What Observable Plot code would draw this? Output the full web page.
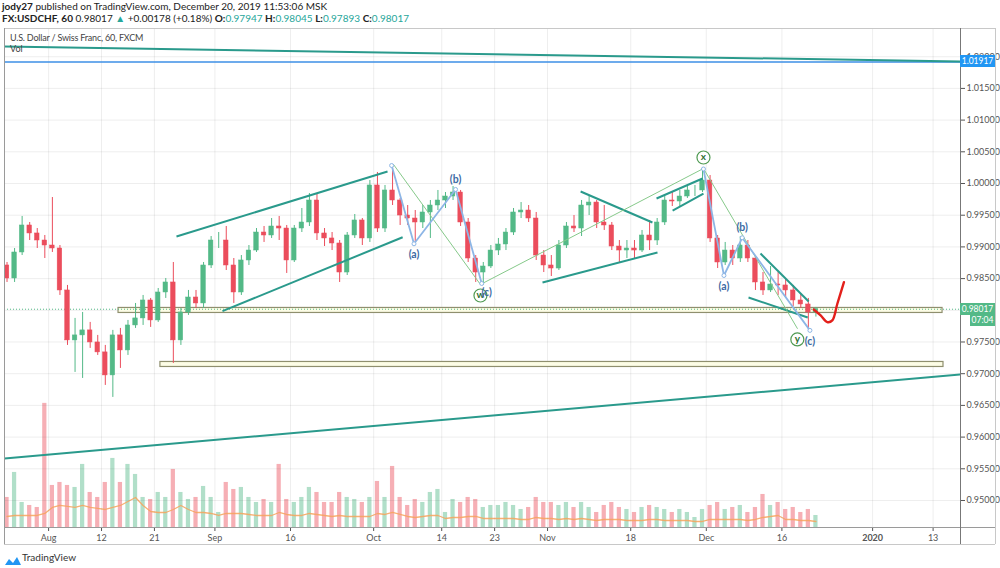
<!DOCTYPE html>
<html><head><meta charset="utf-8">
<script src="https://cdn.jsdelivr.net/npm/d3@7"></script>
<script src="https://cdn.jsdelivr.net/npm/@observablehq/plot@0.6"></script>
<style>
html,body{margin:0;padding:0;background:#fff;}
#wrap{position:relative;width:1000px;height:568px;overflow:hidden;font-family:Lato,"Open Sans",sans-serif;color:#222;}
.abs{position:absolute;white-space:nowrap;}
.up{color:#26a69a;}
.line{position:absolute;background:#9a9a9a;pointer-events:none;}
.tag{position:absolute;color:#fff;font-size:8.5px;text-align:center;line-height:12px;font-family:Lato,sans-serif;}
</style></head>
<body><div id="wrap"></div>
<script>
// ---------------- DATA ----------------
const author = "jody27";
const published = "December 20, 2019 11:53:06 MSK";
const symbolLine = "FX:USDCHF, 60";
const paneTitle = "U.S. Dollar / Swiss Franc, 60, FXCM";
const lastPrice = 0.98017, change = "+0.00178 (+0.18%)";
const ohlcLast = {O:"0.97947", H:"0.98045", L:"0.97893", C:"0.98017"};
const alertLevel = 1.01917;
const countdown = "07:04";

const dates = ["2019-07-24","2019-07-25","2019-07-26","2019-07-29","2019-07-30","2019-07-31",
"2019-08-01","2019-08-02","2019-08-05","2019-08-06","2019-08-07","2019-08-08","2019-08-09","2019-08-12","2019-08-13","2019-08-14","2019-08-15","2019-08-16","2019-08-19","2019-08-20","2019-08-21","2019-08-22","2019-08-23","2019-08-26","2019-08-27","2019-08-28","2019-08-29","2019-08-30",
"2019-09-02","2019-09-03","2019-09-04","2019-09-05","2019-09-06","2019-09-09","2019-09-10","2019-09-11","2019-09-12","2019-09-13","2019-09-16","2019-09-17","2019-09-18","2019-09-19","2019-09-20","2019-09-23","2019-09-24","2019-09-25","2019-09-26","2019-09-27","2019-09-30",
"2019-10-01","2019-10-02","2019-10-03","2019-10-04","2019-10-07","2019-10-08","2019-10-09","2019-10-10","2019-10-11","2019-10-14","2019-10-15","2019-10-16","2019-10-17","2019-10-18","2019-10-21","2019-10-22","2019-10-23","2019-10-24","2019-10-25","2019-10-28","2019-10-29","2019-10-30","2019-10-31",
"2019-11-01","2019-11-04","2019-11-05","2019-11-06","2019-11-07","2019-11-08","2019-11-11","2019-11-12","2019-11-13","2019-11-14","2019-11-15","2019-11-18","2019-11-19","2019-11-20","2019-11-21","2019-11-22","2019-11-25","2019-11-26","2019-11-27","2019-11-28","2019-11-29",
"2019-12-02","2019-12-03","2019-12-04","2019-12-05","2019-12-06","2019-12-09","2019-12-10","2019-12-11","2019-12-12","2019-12-13","2019-12-16","2019-12-17","2019-12-18","2019-12-19","2019-12-20"];

const open = [0.98707,0.98502,0.98912,0.99338,0.99212,0.99101,
0.99022,0.98975,0.98313,0.97525,0.97604,0.97683,0.97493,0.97336,0.96973,0.97604,0.97367,0.97761,0.97872,0.98155,0.97840,0.98281,0.98439,0.97525,0.97966,0.98202,0.98108,0.98707,
0.99101,0.99101,0.98707,0.98281,0.98786,0.98943,0.99227,0.99180,0.99322,0.99290,0.98786,0.99290,0.99385,0.99732,0.99212,0.99133,0.99054,0.98596,0.99180,0.99417,0.99133,
0.99969,0.99290,0.99890,0.99732,0.99495,0.99448,0.99385,0.99543,0.99653,0.99732,0.99795,0.99858,0.99385,0.98817,0.98596,0.98691,0.98943,0.99038,0.99227,0.99543,0.99574,0.99448,0.98864,
0.98707,0.98659,0.99022,0.99322,0.99290,0.99653,0.99700,0.99385,0.99338,0.99006,0.98943,0.98975,0.98943,0.99180,0.99101,0.99385,0.99732,0.99716,0.99795,0.99890,0.99890,
1.00047,0.99133,0.98754,0.98943,0.98817,0.99022,0.98817,0.98439,0.98313,0.98407,0.98392,0.98313,0.98155,0.98092,0.97966];

const high = [0.98754,0.98975,0.99480,0.99385,0.99290,0.99180,
0.99779,0.99022,0.98392,0.97872,0.97966,0.97809,0.97604,0.97446,0.97683,0.97714,0.97840,0.98108,0.98234,0.98187,0.98344,0.98502,0.98754,0.98029,0.98313,0.98313,0.98754,0.99164,
0.99227,0.99322,0.98817,0.98864,0.99022,0.99290,0.99322,0.99448,0.99480,0.99338,0.99338,0.99606,0.99842,0.99842,0.99290,0.99227,0.99101,0.99227,0.99511,0.99448,1.00047,
1.00174,0.99969,1.00284,0.99764,0.99653,0.99574,0.99653,0.99732,0.99890,0.99858,0.99953,0.99890,0.99448,0.98864,0.98754,0.99022,0.99133,0.99290,0.99606,0.99700,0.99653,0.99543,0.98943,
0.98864,0.99101,0.99385,0.99495,0.99732,0.99795,0.99732,0.99653,0.99385,0.99101,0.99101,0.99101,0.99259,0.99417,0.99448,0.99811,0.99858,0.99890,0.99953,0.99969,1.00221,
1.00126,0.99180,0.99070,0.99022,0.99164,0.99101,0.98864,0.98596,0.98691,0.98596,0.98502,0.98392,0.98265,0.98187,0.98045];

const low = [0.98439,0.98439,0.98864,0.99101,0.98975,0.98817,
0.98912,0.98234,0.97446,0.97020,0.96925,0.97399,0.97288,0.96815,0.96626,0.97083,0.97288,0.97714,0.97761,0.97730,0.97809,0.98187,0.97162,0.97446,0.97919,0.98029,0.98029,0.98659,
0.98975,0.98628,0.98108,0.98234,0.98707,0.98912,0.99070,0.99133,0.99101,0.98581,0.98754,0.99227,0.99322,0.99101,0.99006,0.98943,0.98439,0.98549,0.99133,0.99022,0.99070,
0.99227,0.99227,0.99653,0.99338,0.99338,0.99070,0.99290,0.99133,0.99574,0.99606,0.99732,0.99322,0.98754,0.98439,0.98392,0.98659,0.98864,0.98943,0.99180,0.99448,0.99385,0.98786,0.98596,
0.98533,0.98628,0.98975,0.99227,0.99164,0.99495,0.99290,0.99259,0.98943,0.98738,0.98817,0.98817,0.98912,0.98943,0.99022,0.99338,0.99637,0.99637,0.99764,0.99795,0.99858,
0.99070,0.98659,0.98707,0.98707,0.98754,0.98754,0.98313,0.98234,0.98281,0.98234,0.98187,0.98061,0.98029,0.97700,0.97893];

const close = [0.98502,0.98912,0.99338,0.99212,0.99101,0.99022,
0.98975,0.98313,0.97525,0.97604,0.97683,0.97493,0.97336,0.96973,0.97604,0.97367,0.97761,0.97872,0.98155,0.97840,0.98281,0.98439,0.97525,0.97966,0.98202,0.98108,0.98707,0.99101,
0.99101,0.98707,0.98281,0.98786,0.98943,0.99227,0.99180,0.99322,0.99290,0.98786,0.99290,0.99385,0.99732,0.99212,0.99133,0.99054,0.98596,0.99180,0.99417,0.99133,0.99969,
0.99290,0.99890,0.99732,0.99495,0.99448,0.99385,0.99543,0.99653,0.99732,0.99795,0.99858,0.99385,0.98817,0.98596,0.98691,0.98943,0.99038,0.99227,0.99543,0.99574,0.99448,0.98864,0.98707,
0.98659,0.99022,0.99322,0.99290,0.99653,0.99700,0.99385,0.99338,0.99006,0.98943,0.98975,0.98943,0.99180,0.99101,0.99385,0.99732,0.99716,0.99795,0.99890,0.99890,1.00047,
0.99133,0.98754,0.98943,0.98817,0.99022,0.98817,0.98439,0.98313,0.98407,0.98392,0.98313,0.98155,0.98092,0.97966,0.98017];

const volume = [30,55,25,22,20,124,
42,45,42,40,63,35,30,45,69,45,63,53,30,28,35,30,58,35,28,30,41,30,
15,45,38,40,30,25,28,25,63,28,25,30,40,35,25,25,35,30,28,25,30,
46,30,61,30,22,28,25,35,38,15,28,25,30,28,20,22,22,25,22,18,20,30,25,
25,22,25,20,25,20,15,22,25,20,18,15,20,22,20,18,15,18,15,10,18,
22,25,18,20,22,15,20,33,22,25,18,20,15,18,12];

const volumeMA = [11,12,12,12,12,14,
20,22,21,20,22,20,19,18,20,22,26,30,22,16,15,15,18,22,18,15,15,14,
12,14,14,14,13,12,12,12,15,13,12,12,14,13,12,11,12,11,11,11,11,
14,13,15,13,11,10,11,12,12,9,10,10,11,11,9,9,9,9,9,8,8,10,9,
9,8,9,8,9,8,7,8,8,8,7,7,7,8,8,7,7,7,7,6,6,
8,8,8,8,8,7,8,10,11,12,8,8,7,7,6];

const xTickDates = ["2019-08-01","2019-08-12","2019-08-21","2019-09-02","2019-09-16","2019-10-01","2019-10-14","2019-10-23","2019-11-01","2019-11-18","2019-12-02","2019-12-16","2020-01-01","2020-01-13"];
const xTickLabels = ["Aug","12","21","Sep","16","Oct","14","23","Nov","18","Dec","16","2020","13"];
const yTicks = [0.95,0.955,0.96,0.965,0.97,0.975,0.98,0.985,0.99,0.995,1.0,1.005,1.01,1.015,1.02];
const viewStart = "2019-07-24T04:00", viewEnd = "2020-01-16T15:00";
const priceRange = [0.94574, 1.02445];

// drawings (time, price anchors)
const trendLines = [
 {t1:"2019-07-24T04:00", p1:1.02161, t2:"2020-01-16T15:00", p2:1.01925},
 {t1:"2019-07-24T04:00", p1:0.95663, t2:"2020-01-16T15:00", p2:0.96988},
 {t1:"2019-08-23T22:00", p1:0.99164, t2:"2019-10-02T20:00", p2:1.00190},
 {t1:"2019-09-03T00:00", p1:0.97986, t2:"2019-10-04T20:00", p2:0.99153},
 {t1:"2019-11-07T09:00", p1:0.99874, t2:"2019-11-20T21:00", p2:0.99385},
 {t1:"2019-10-31T08:00", p1:0.98439, t2:"2019-11-21T13:00", p2:0.98912},
 {t1:"2019-11-21T10:00", p1:0.99764, t2:"2019-11-29T12:00", p2:1.00079},
 {t1:"2019-11-25T13:00", p1:0.99574, t2:"2019-11-29T15:00", p2:0.99842},
 {t1:"2019-12-11T04:00", p1:0.98896, t2:"2019-12-19T13:00", p2:0.98139},
 {t1:"2019-12-09T14:00", p1:0.98202, t2:"2019-12-19T10:00", p2:0.97887}
];
const waveABC = [
 {wave:1, time:"2019-10-03T09:00", price:1.00284, label:"",    side:"none"},
 {wave:1, time:"2019-10-08T08:00", price:0.99049, label:"(a)", side:"below"},
 {wave:1, time:"2019-10-15T20:00", price:0.99906, label:"(b)", side:"above"},
 {wave:1, time:"2019-10-21T07:00", price:0.98423, label:"(c)", side:"belowRight"},
 {wave:2, time:"2019-11-29T15:00", price:1.00229, label:"",    side:"none"},
 {wave:2, time:"2019-12-04T08:00", price:0.98549, label:"(a)", side:"below"},
 {wave:2, time:"2019-12-06T18:00", price:0.99144, label:"(b)", side:"above"},
 {wave:2, time:"2019-12-19T17:00", price:0.97683, label:"(c)", side:"below"}
];
const waveWXY = [
 {time:"2019-10-03T15:00", price:1.00300, label:"",  side:"none"},
 {time:"2019-10-21T03:00", price:0.98407, label:"w", side:"below"},
 {time:"2019-11-29T15:00", price:1.00237, label:"x", side:"above"},
 {time:"2019-12-18T01:00", price:0.97714, label:"y", side:"below"}
];
const zones = [
 {from:"2019-08-14T06:00", to:"2020-01-14T06:00", top:0.98037, bottom:0.97958},
 {from:"2019-08-21T19:00", to:"2020-01-14T09:00", top:0.97185, bottom:0.97106}
];
const projection = [
 {time:"2019-12-20T05:00", price:0.98013},
 {time:"2019-12-23T03:00", price:0.97919},
 {time:"2019-12-24T00:00", price:0.97813},
 {time:"2019-12-24T16:00", price:0.97840},
 {time:"2019-12-25T08:00", price:0.98103},
 {time:"2019-12-26T05:00", price:0.98444}
];

// ---------------- HELPERS ----------------
const BASE = Date.UTC(2019,7,1), DAY = 864e5;
function tIndex(s){ // trading-day index (weekends removed), Aug 1 2019 = 0
  const d = new Date(s.length <= 10 ? s + "T00:00Z" : s + "Z");
  const d0 = Date.UTC(d.getUTCFullYear(), d.getUTCMonth(), d.getUTCDate());
  const frac = (d - d0) / DAY;
  let n = 0;
  if (d0 >= BASE) { for (let t = BASE; t < d0; t += DAY) { const w = new Date(t).getUTCDay(); if (w && w !== 6) n++; } }
  else { for (let t = d0; t < BASE; t += DAY) { const w = new Date(t).getUTCDay(); if (w && w !== 6) n--; } }
  return n + frac;
}
const UP = "#53b987", DOWN = "#eb4d5c", TEAL = "#2a9a8c", BLUE_W = "#8db6e6", GREEN_W = "#86c98a";
const candles = dates.map((d,i)=>({t:tIndex(d), open:open[i], high:high[i], low:low[i], close:close[i], vol:volume[i], ma:volumeMA[i]}));
const col = d => d.close >= d.open ? UP : DOWN;
const xTickIdx = xTickDates.map(tIndex);
const labelMap = new Map(xTickIdx.map((v,i)=>[v, xTickLabels[i]]));
const xDomain = [tIndex(viewStart), tIndex(viewEnd)];
const common = {width:1000, height:545, marginTop:28, marginRight:40, marginBottom:18, marginLeft:4};
const wave = waveABC.map(d=>({...d, t:tIndex(d.time)}));
const wxy = waveWXY.map(d=>({...d, t:tIndex(d.time)}));
const proj = projection.map(d=>({...d, t:tIndex(d.time)}));
const fmt5 = d3.format(".5f");

// ---------------- VOLUME (overlay pane) ----------------
const volPlot = Plot.plot({
  ...common,
  style:{background:"transparent"},
  x:{type:"linear", domain:xDomain, axis:null},
  y:{domain:[0, d3.max(volume)*4.02], axis:null},
  marks:[
    Plot.rect(candles, {x1:d=>d.t+0.22, x2:d=>d.t+0.78, y1:()=>0, y2:"vol", fill:col, fillOpacity:0.45}),
    Plot.line(candles, {x:d=>d.t+0.5, y:"ma", stroke:"#f7a35c", strokeWidth:1.3, strokeOpacity:0.85})
  ]
});

// ---------------- MAIN PRICE PANE ----------------
const main = Plot.plot({
  ...common,
  style:{background:"transparent", fontFamily:"Lato, 'Open Sans', sans-serif", fontSize:"9px", color:"#555", overflow:"visible"},
  x:{type:"linear", domain:xDomain, ticks:xTickIdx, tickFormat:d=>labelMap.get(d), tickSize:4, tickPadding:3, label:null, grid:true},
  y:{domain:priceRange, axis:"right", ticks:yTicks, tickFormat:d=>Math.abs(d-lastPrice)<0.001 ? "" : fmt5(d), tickSize:4, tickPadding:2, label:null, grid:true},
  marks:[
    Plot.rect(zones, {x1:d=>tIndex(d.from), x2:d=>tIndex(d.to), y1:"bottom", y2:"top", fill:"#fdfde6", stroke:"#8f8f6e", strokeWidth:1.2}),
    Plot.ruleY([lastPrice], {stroke:UP, strokeDasharray:"1,2"}),
    Plot.ruleX(candles, {x:d=>d.t+0.5, y1:"low", y2:"high", stroke:col, strokeWidth:1}),
    Plot.rect(candles, {x1:d=>d.t+0.2, x2:d=>d.t+0.8, y1:d=>Math.min(d.open,d.close), y2:d=>Math.max(d.open,d.close), fill:col, stroke:col, strokeWidth:0.5}),
    Plot.ruleY([alertLevel], {stroke:"#3d8fe6", strokeWidth:1.5}),
    Plot.link(trendLines, {x1:d=>tIndex(d.t1), y1:"p1", x2:d=>tIndex(d.t2), y2:"p2", stroke:TEAL, strokeWidth:2, clip:true}),
    Plot.line(wxy, {x:"t", y:"price", stroke:GREEN_W, strokeWidth:1}),
    Plot.line(wave, {x:"t", y:"price", z:"wave", stroke:BLUE_W, strokeWidth:1.8}),
    Plot.dot(wave, {x:"t", y:"price", r:2, stroke:BLUE_W, fill:"white", strokeWidth:1}),
    Plot.line(proj, {x:"t", y:"price", stroke:"#e3201b", strokeWidth:2.4, curve:"catmull-rom"}),
    Plot.dot(wxy.filter(d=>d.side==="below"), {x:"t", y:"price", dy:11, r:6.5, stroke:"#4f9a52", fill:"white", strokeWidth:1.2}),
    Plot.dot(wxy.filter(d=>d.side==="above"), {x:"t", y:"price", dy:-11, r:6.5, stroke:"#4f9a52", fill:"white", strokeWidth:1.2}),
    Plot.text(wxy.filter(d=>d.side==="below"), {x:"t", y:"price", dy:10, text:"label", fill:"#2e6f32", fontSize:10, fontWeight:"bold"}),
    Plot.text(wxy.filter(d=>d.side==="above"), {x:"t", y:"price", dy:-12, text:"label", fill:"#2e6f32", fontSize:10, fontWeight:"bold"}),
    Plot.text(wave.filter(d=>d.side==="below"), {x:"t", y:"price", dy:11, text:"label", fill:"#3b6aa3", fontSize:10.5, fontWeight:"bold"}),
    Plot.text(wave.filter(d=>d.side==="belowRight"), {x:"t", y:"price", dx:5, dy:9, text:"label", fill:"#3b6aa3", fontSize:10.5, fontWeight:"bold"}),
    Plot.text(wave.filter(d=>d.side==="above"), {x:"t", y:"price", dy:-10, text:"label", fill:"#3b6aa3", fontSize:10.5, fontWeight:"bold"})
  ]
});
main.querySelectorAll("text").forEach(t=>{ if (t.textContent === "2020") t.setAttribute("font-weight","bold"); });

// ---------------- ASSEMBLY ----------------
const wrap = document.getElementById("wrap");
volPlot.style.position = "absolute"; volPlot.style.left = "0"; volPlot.style.top = "0";
main.style.position = "absolute"; main.style.left = "0"; main.style.top = "0";
wrap.appendChild(volPlot); wrap.appendChild(main);

function el(tag, cls, css, html){ const e=document.createElement(tag); if(cls)e.className=cls; Object.assign(e.style, css); if(html!=null)e.innerHTML=html; wrap.appendChild(e); return e; }
// header
el("div","abs",{left:"2px",top:"0px",fontSize:"10px"}, `<b>${author}</b> published on TradingView.com, ${published}`);
el("div","abs",{left:"2px",top:"12px",fontSize:"10px"},
  `<b>${symbolLine}</b> ${lastPrice.toFixed(5)} <span class="up">▲</span> ${change} <b>O:</b><span class="up">${ohlcLast.O}</span> <b>H:</b><span class="up">${ohlcLast.H}</span> <b>L:</b><span class="up">${ohlcLast.L}</span> <b>C:</b><span class="up">${ohlcLast.C}</span>`);
el("div","abs",{left:"10px",top:"32px",fontSize:"9px",letterSpacing:"-0.2px",color:"#444"}, paneTitle);
el("div","abs",{left:"10px",top:"43px",fontSize:"9px",color:"#444"}, "Vol");
// pane frame lines
el("div","line",{left:"4px",top:"28px",width:"991px",height:"1px",background:"#c8c8c8"});
el("div","line",{left:"4px",top:"28px",width:"1px",height:"516px"});
el("div","line",{left:"4px",top:"527px",width:"991px",height:"1px"});
el("div","line",{left:"4px",top:"544px",width:"991px",height:"1px",background:"#c8c8c8"});
el("div","line",{left:"960px",top:"28px",width:"1px",height:"516px",background:"#777"});
el("div","line",{left:"995px",top:"28px",width:"1px",height:"516px",background:"#c8c8c8"});
// price tags
const ys = main.scale("y");
const yA = ys.apply(alertLevel), yL = ys.apply(lastPrice);
el("div","tag",{left:"960px",top:(yA-6)+"px",width:"35px",height:"12px",background:"#2196f3"}, alertLevel.toFixed(5));
el("div","tag",{left:"960px",top:(yL-6)+"px",width:"35px",height:"12px",background:UP}, lastPrice.toFixed(5));
el("div","tag",{left:"970px",top:(yL+6)+"px",width:"25px",height:"11px",lineHeight:"11px",background:UP}, countdown);
// footer logo
el("div","abs",{left:"4px",top:"551px"}, `<svg width="18" height="12" viewBox="0 0 18 12"><path d="M1 10 L5 4 L9 8 L13 2 L17 10 Z" fill="#2196f3"/></svg>`);
el("div","abs",{left:"22px",top:"551px",fontSize:"10px",color:"#333"}, "TradingView");
</script></body></html>
